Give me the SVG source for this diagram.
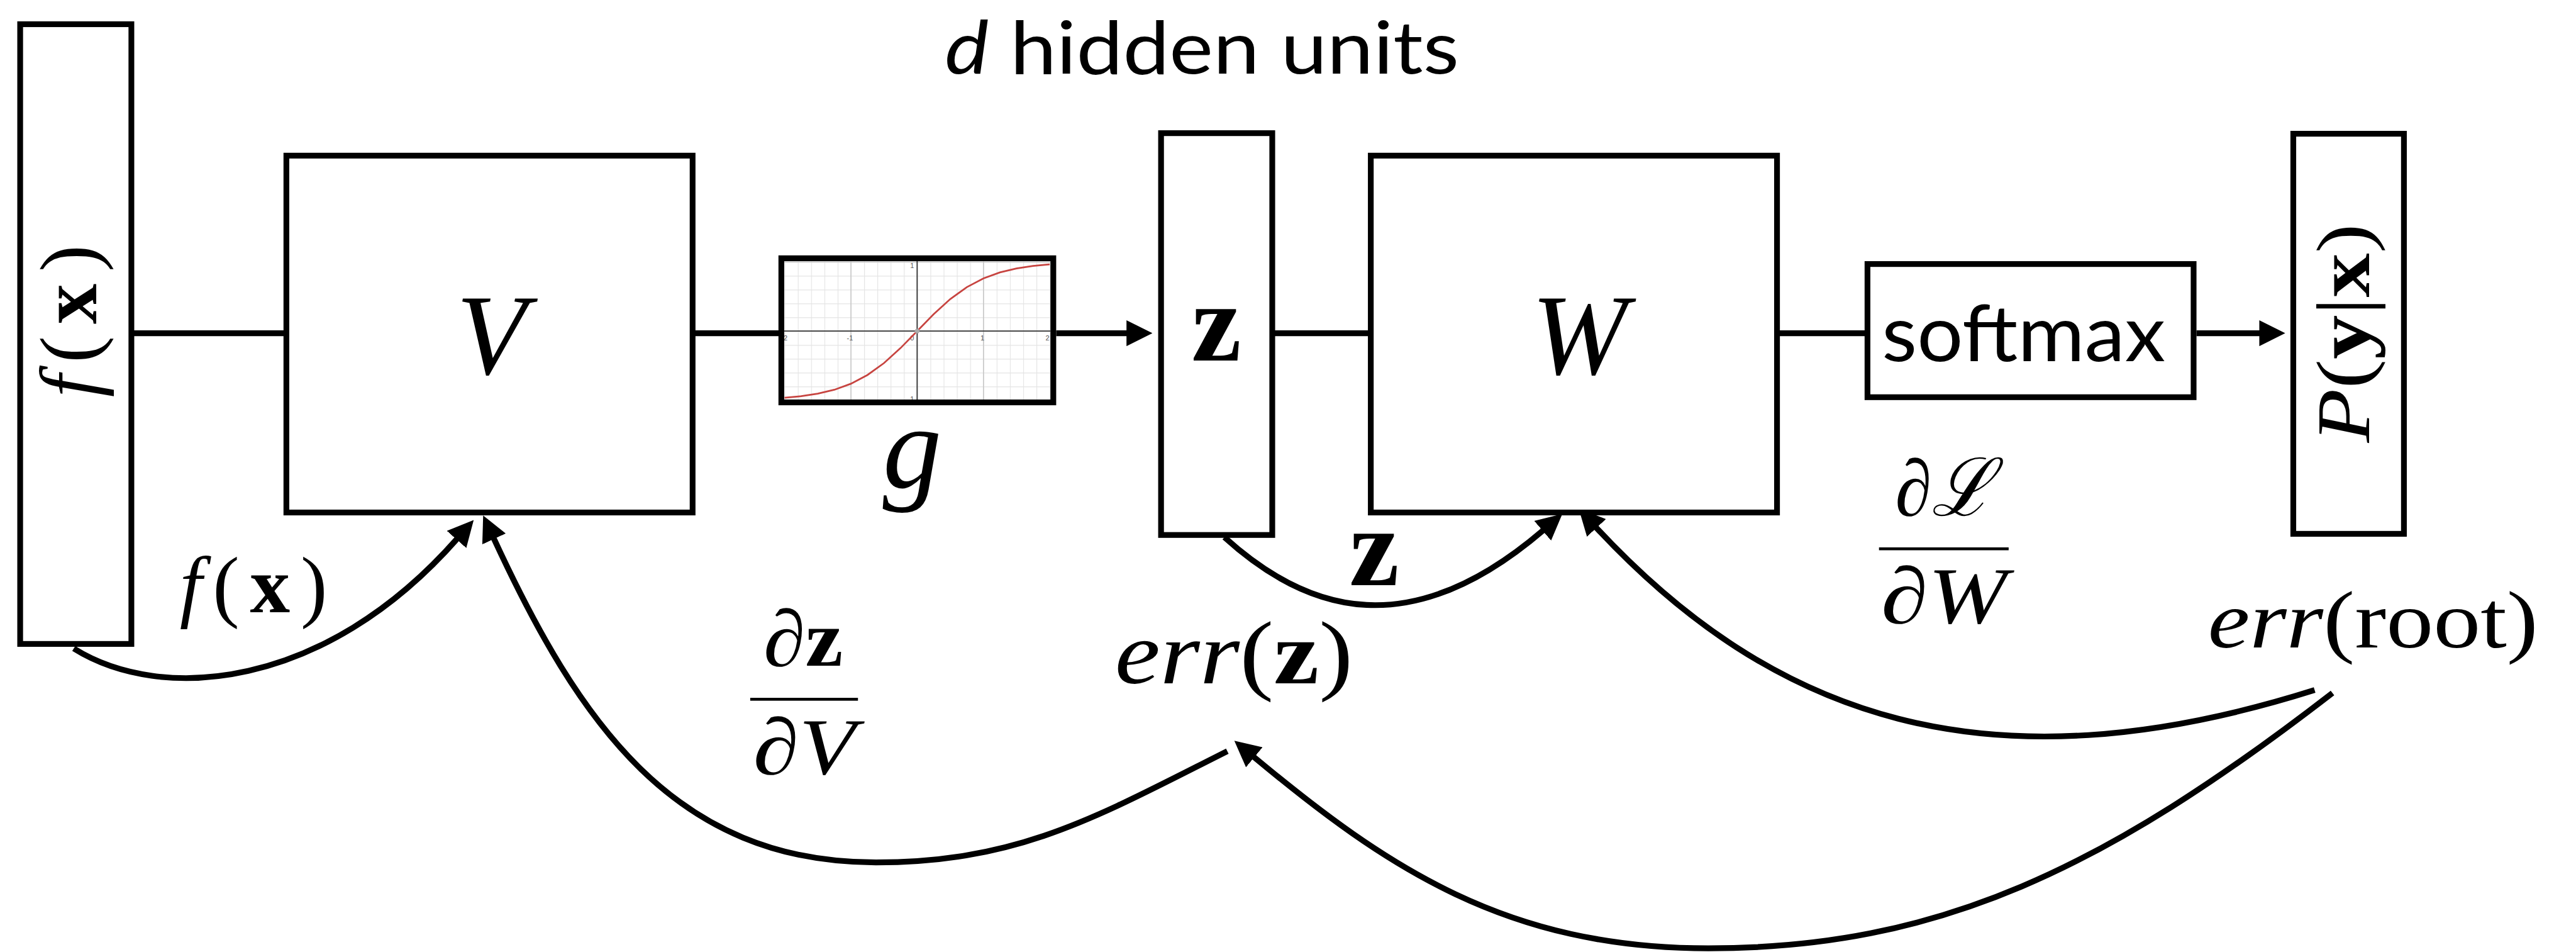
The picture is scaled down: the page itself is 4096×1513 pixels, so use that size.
<svg xmlns="http://www.w3.org/2000/svg" width="4096" height="1513" viewBox="0 0 4096 1513">
<defs>
<style>
.box{fill:#fff;stroke:#000;stroke-width:10}
.frame{fill:none;stroke:#000;stroke-width:10}
.wire{fill:none;stroke:#000;stroke-width:10}
.math{font-family:'Liberation Serif','DejaVu Serif',serif;fill:#000}
.it{font-style:italic}
.bf{font-weight:bold}
.sans{font-family:Lato,'Open Sans','Liberation Sans',sans-serif;fill:#000}
.major{stroke:#c4c4c4;stroke-width:1.5;fill:none}
.axis{stroke:#333;stroke-width:2;fill:none}
.tick{font-family:'Liberation Sans',sans-serif;font-size:12px;fill:#555}
</style>
<marker id="ah" markerUnits="userSpaceOnUse" viewBox="0 0 45 45" markerWidth="45" markerHeight="45" refX="1" refY="22.5" orient="auto"><path d="M0,0 L45,22.5 L0,45 z" fill="#000"/></marker>
<pattern id="grid" patternUnits="userSpaceOnUse" x="1361.7" y="454.3" width="23" height="24"><path d="M0.5,0 V24 M0,0.5 H23" stroke="#e4e4e4" stroke-width="1.5" fill="none"/></pattern>
<clipPath id="plotclip"><rect x="1361" y="453" width="462" height="240"/></clipPath>
</defs>
<rect width="4096" height="1513" fill="#fff"/>
<g transform="scale(0.9162)">

<text class="sans" x="1640" y="128" font-size="128" textLength="892" lengthAdjust="spacingAndGlyphs"><tspan font-style="italic">d</tspan> hidden units</text>

<g id="connectors">
<path class="wire" d="M232,578 H493"/>
<path class="wire" d="M1202,578 H1356"/>
<path class="wire" d="M1833,578 H1956" marker-end="url(#ah)"/>
<path class="wire" d="M2208,578 H2379"/>
<path class="wire" d="M3084,578 H3241"/>
<path class="wire" d="M3812,578 H3922" marker-end="url(#ah)"/>
<path class="wire" d="M128,1125 C280,1220 562,1197 793,935" marker-end="url(#ah)"/>
<path class="wire" d="M2130,1303 C1907,1415 1770,1496 1520,1496 C1170,1496 1004,1252 857,934" marker-end="url(#ah)"/>
<path class="wire" d="M2125,932 C2273,1066 2450,1115 2678,920" marker-end="url(#ah)"/>
<path class="wire" d="M4017,1197 C3447,1377 3076,1243.5 2770,915" marker-end="url(#ah)"/>
<path class="wire" d="M4048,1202 C3653,1507 3365,1645 2965,1645 C2615,1645 2407,1505 2176,1313" marker-end="url(#ah)"/>
</g>

<g id="node-fx">
<rect class="box" x="35" y="42" width="193" height="1075"/>
<text class="math" transform="translate(167,557) rotate(-90)" text-anchor="middle" font-size="140" textLength="264" lengthAdjust="spacing"><tspan class="it">f</tspan>(<tspan class="bf">x</tspan>)</text>
</g>

<g id="node-V">
<rect class="box" x="497" y="270" width="705" height="619"/>
<text class="math it" x="853" y="648" text-anchor="middle" font-size="200">V</text>
</g>

<g id="node-g">
<rect x="1356" y="448" width="472" height="250" fill="#fff"/>
<g clip-path="url(#plotclip)">
<rect x="1361" y="453" width="462" height="240" fill="url(#grid)"/>
<path class="major" d="M1476.7,453 V693 M1706.7,453 V693 M1361,454.3 H1823 M1361,694.3 H1823"/>
<path class="axis" d="M1591.7,453 V693 M1361,574.3 H1823"/>
<text class="tick" x="1356" y="590">-2</text>
<text class="tick" x="1475" y="590" text-anchor="middle">-1</text>
<text class="tick" x="1583" y="590" text-anchor="middle">0</text>
<text class="tick" x="1705" y="590" text-anchor="middle">1</text>
<text class="tick" x="1818" y="590" text-anchor="middle">2</text>
<text class="tick" x="1583" y="465" text-anchor="middle">1</text>
<text class="tick" x="1581" y="696" text-anchor="middle">-1</text>
<polyline fill="none" stroke="#c74440" stroke-width="3" points="1361.7,690 1390.45,687.3 1419.2,682.9 1447.95,676.1 1476.7,665.7 1505.45,650.5 1534.2,629.8 1562.95,603.7 1591.7,574.3 1620.45,544.9 1649.2,518.8 1677.95,498.1 1706.7,482.9 1735.45,472.5 1764.2,465.7 1792.95,461.3 1821.7,458.6"/>
<circle cx="1591.7" cy="574.3" r="4" fill="#aaa"/>
</g>
<rect class="frame" x="1356" y="448" width="472" height="250"/>
<text class="math it" x="1583" y="846" text-anchor="middle" font-size="205">g</text>
</g>

<g id="node-z">
<rect class="box" x="2015" y="231" width="193" height="697"/>
<text class="math bf" x="2111" y="625" text-anchor="middle" font-size="195">z</text>
</g>

<g id="node-W">
<rect class="box" x="2379" y="270" width="705" height="619"/>
<text class="math it" x="2741" y="648" text-anchor="middle" font-size="200">W</text>
</g>

<g id="node-softmax">
<rect class="box" x="3241" y="458" width="566" height="231"/>
<text class="sans" x="3266" y="627" font-size="136" textLength="492" lengthAdjust="spacingAndGlyphs">softmax</text>
</g>

<g id="node-P">
<rect class="box" x="3980" y="232" width="192" height="694"/>
<text class="math" transform="translate(4112,578) rotate(-90)" text-anchor="middle" font-size="132" textLength="380" lengthAdjust="spacingAndGlyphs"><tspan class="it">P</tspan>(<tspan class="bf">y</tspan>|<tspan class="bf">x</tspan>)</text>
</g>

<g id="labels">
<text class="math" x="312" y="1062" font-size="139" textLength="256" lengthAdjust="spacing"><tspan class="it">f</tspan>(<tspan class="bf">x</tspan>)</text>
<text class="math bf" x="2385" y="1015" text-anchor="middle" font-size="195">z</text>
<text class="math" x="1394" y="1155" text-anchor="middle" font-size="139" textLength="138" lengthAdjust="spacingAndGlyphs"><tspan class="it">∂</tspan><tspan class="bf">z</tspan></text>
<rect x="1302" y="1210.5" width="187" height="5"/>
<text class="math it" x="1396" y="1343" text-anchor="middle" font-size="139" textLength="178" lengthAdjust="spacingAndGlyphs">∂V</text>
<text class="math" x="1935" y="1185" font-size="155" textLength="413" lengthAdjust="spacingAndGlyphs"><tspan class="it">err</tspan>(<tspan class="bf">z</tspan>)</text>
<text class="math it" x="3374" y="894" text-anchor="middle" font-size="139" textLength="170" lengthAdjust="spacingAndGlyphs">∂ℒ</text>
<rect x="3261" y="949.5" width="225" height="5"/>
<text class="math it" x="3374" y="1081" text-anchor="middle" font-size="139" textLength="219" lengthAdjust="spacingAndGlyphs">∂W</text>
<text class="math" x="3832" y="1123" font-size="142" textLength="573" lengthAdjust="spacingAndGlyphs"><tspan class="it">err</tspan>(root)</text>
</g>
</g>
</svg>
